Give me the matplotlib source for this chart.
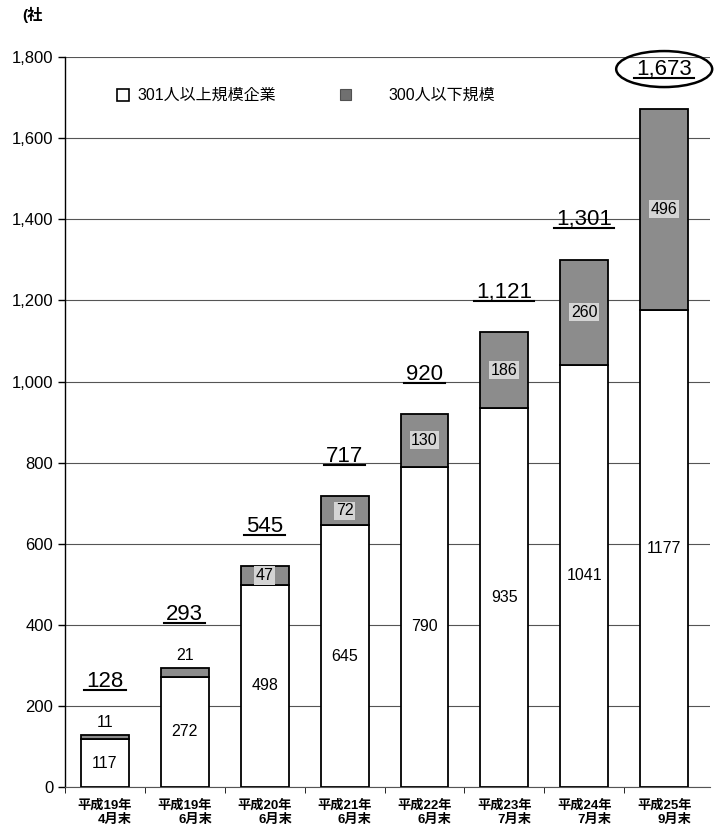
import matplotlib.pyplot as plt
from matplotlib.patches import Ellipse, Rectangle
from matplotlib.lines import Line2D

plt.rcParams['font.family'] = ['Liberation Sans', 'Noto Sans CJK JP']

# Data: companies by period
periods = ['平成19年\n4月末', '平成19年\n6月末', '平成20年\n6月末', '平成21年\n6月末',
           '平成22年\n6月末', '平成23年\n7月末', '平成24年\n7月末', '平成25年\n9月末']
large_firms = [117, 272, 498, 645, 790, 935, 1041, 1177]
small_firms = [11, 21, 47, 72, 130, 186, 260, 496]
totals = [128, 293, 545, 717, 920, 1121, 1301, 1673]

fig = plt.figure(figsize=(7.22, 8.30), dpi=100)
ax = fig.add_axes([0.09, 0.052, 0.893, 0.879])

x = list(range(len(periods)))
w = 0.6
ax.bar(x, large_firms, width=w, color='white', edgecolor='black', linewidth=1.3, zorder=3)
ax.bar(x, small_firms, width=w, bottom=large_firms, color='#8c8c8c',
       edgecolor='black', linewidth=1.3, zorder=3)

ax.set_xlim(-0.44, 7.57)
ax.set_ylim(0, 1800)
ax.set_yticks(range(0, 1801, 200))
ax.set_yticklabels(['{:,}'.format(v) for v in range(0, 1801, 200)], fontsize=12)
ax.yaxis.grid(True, color='#555555', linewidth=0.8, zorder=0)
ax.set_axisbelow(True)
for s in ['top', 'right']:
    ax.spines[s].set_visible(False)
ax.spines['left'].set_linewidth(1.0)
ax.spines['bottom'].set_color('#555555')
ax.tick_params(axis='y', length=5, width=1)

ax.set_xticks(x)
ax.set_xticklabels(periods, fontsize=9.5, fontweight='bold', multialignment='right')
ax.tick_params(axis='x', length=0, pad=9)
ax.set_xticks([i + 0.5 for i in x[:-1]] + [-0.5], minor=True)
ax.tick_params(axis='x', which='minor', length=4)

# Value labels
total_texts = []
for i in x:
    ax.text(i, large_firms[i] / 2, str(large_firms[i]), ha='center', va='center',
            fontsize=11.5, zorder=5)
    if small_firms[i] < 40:
        ax.text(i, totals[i] + 12, str(small_firms[i]), ha='center', va='bottom',
                fontsize=11.5, zorder=5)
        extra = 35
    else:
        ax.text(i, large_firms[i] + small_firms[i] / 2, str(small_firms[i]), ha='center',
                va='center', fontsize=11.5, zorder=5,
                bbox=dict(boxstyle='square,pad=0.1', facecolor='#d4d4d4', edgecolor='none'))
        extra = 0
    t = ax.text(i, totals[i] + 72 + extra, '{:,}'.format(totals[i]), ha='center',
                va='bottom', fontsize=16, zorder=5)
    total_texts.append(t)

# Underline the totals
fig.canvas.draw()
renderer = fig.canvas.get_renderer()
inv = fig.transFigure.inverted()
for t in total_texts:
    bb = t.get_window_extent(renderer)
    (x0, y0), (x1, y1) = inv.transform([[bb.x0 - 2, bb.y0 + 2], [bb.x1 + 2, bb.y0 + 2]])
    fig.add_artist(Line2D([x0, x1], [y0, y1], color='black', linewidth=1.5))

# Circle around the last total
bb = total_texts[-1].get_window_extent(renderer)
cx, cy = inv.transform([[(bb.x0 + bb.x1) / 2, (bb.y0 + bb.y1) / 2]])[0]
fig.add_artist(Ellipse((cx, cy), 96 / 722, 36 / 830, facecolor='none',
                       edgecolor='black', linewidth=1.8, transform=fig.transFigure))

# Legend
fig.add_artist(Rectangle((117 / 722, 1 - 101 / 830), 12 / 722, 12 / 830, facecolor='white',
                         edgecolor='black', linewidth=1.2, transform=fig.transFigure))
fig.text(137 / 722, 1 - 95 / 830, '301人以上規模企業', fontsize=11.5, va='center')
fig.add_artist(Rectangle((340 / 722, 1 - 100 / 830), 11 / 722, 11 / 830, facecolor='#707070',
                         edgecolor='#505050', linewidth=0.8, transform=fig.transFigure))
fig.text(388 / 722, 1 - 95 / 830, '300人以下規模', fontsize=11.5, va='center')

# Unit label
fig.text(22 / 722, 1 - 15 / 830, '(社', fontsize=11, fontweight='bold', va='center', ha='left')

fig.savefig('out.png', dpi=100)
